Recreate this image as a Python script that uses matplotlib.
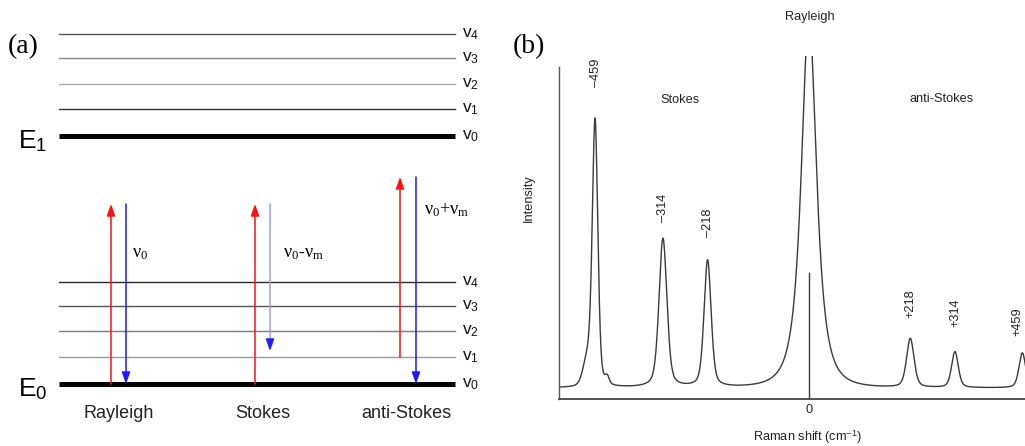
import numpy as np
import matplotlib
matplotlib.use('Agg')
import matplotlib.pyplot as plt

plt.rcParams['font.family'] = ['Liberation Sans', 'DejaVu Sans']
plt.rcParams['mathtext.fontset'] = 'custom'
plt.rcParams['mathtext.rm'] = 'Liberation Serif'
plt.rcParams['mathtext.it'] = 'Liberation Serif:italic'
plt.rcParams['mathtext.bf'] = 'Liberation Serif:bold'
plt.rcParams['mathtext.sf'] = 'Liberation Sans'

# ---------------- data: panel (a) energy-level diagram (arbitrary energy units)
ground_levels = [0, 27, 53, 78, 102]          # E0: v0..v4
excited_levels = [248, 275, 300, 326, 350]    # E1: v0..v4
level_names = ['0', '1', '2', '3', '4']
processes = ['Rayleigh', 'Stokes', 'anti-Stokes']
excite_from = [0, 0, 27]
virtual_level = [180, 180, 207]
emit_to = [0, 33, 0]
transition_labels = [r'$\text{ν}_\text{0}$',
                     r'$\text{ν}_\text{0}\text{-ν}_\text{m}$',
                     r'$\text{ν}_\text{0}\text{+ν}_\text{m}$']

# ---------------- data: panel (b) Raman spectrum
peak_labels = ['–459', '–314', '–218', '+218', '+314', '+459']
peak_shift = [-460, -314, -218, 218, 314, 459]
peak_height = [264, 149, 127, 49, 36, 35]
peak_fwhm = [14, 20, 18, 19, 17, 17]
peak_eta = [0.35, 0.4, 0.4, 0.4, 0.4, 0.4]
shoulder_shift = [-476, -434]
shoulder_height = [24, 7]
shoulder_fwhm = [22, 10]
rayleigh_shift = 0
rayleigh_height = 370
rayleigh_width = 25.2
zero_marker_height = 115

W, H = 1025, 446
fig = plt.figure(figsize=(W / 100, H / 100), dpi=100)

# ======================= panel (a) =======================
ax = fig.add_axes([0, 0, 512.5 / W, 1])
ax.set_xlim(0, 512.5)
ax.set_ylim(384 - H, 384)
ax.axis('off')

X0, X1 = 59, 455
thin_cols_ground = ['#9a9a9a', '#7a7a7a', '#555555', '#2a2a2a']
thin_cols_exc = ['#333333', '#aaaaaa', '#888888', '#555555']
for levels, cols in ((ground_levels, thin_cols_ground), (excited_levels, thin_cols_exc)):
    for i, (e, nm) in enumerate(zip(levels, level_names)):
        if i == 0:
            ax.plot([X0, X1], [e, e], color='black', lw=3.6, solid_capstyle='butt')
        else:
            ax.plot([X0, X1], [e, e], color=cols[i - 1], lw=1.0)
        ax.text(462, e, r'$\mathsf{v}_\mathsf{%s}$' % nm, fontsize=12.5,
                ha='left', va='center', color='#111111')

ax.text(18, excited_levels[0] - 12, r'$\mathsf{E}_\mathsf{1}$', fontsize=19,
        ha='left', va='baseline')
ax.text(18, ground_levels[0] - 12, r'$\mathsf{E}_\mathsf{0}$', fontsize=19,
        ha='left', va='baseline')

up_x = [111, 255, 400]
down_x = [126, 270, 416]
lab_xy = [(132, 131), (283, 131), (424, 174)]
bottom_x = [119, 263, 406]
astyle = '-|>,head_length=0.7,head_width=0.25'
for k, name in enumerate(processes):
    ax.annotate('', xy=(up_x[k], virtual_level[k]), xytext=(up_x[k], excite_from[k]),
                arrowprops=dict(arrowstyle=astyle, color='#ff1010', lw=1.1,
                                shrinkA=0, shrinkB=0, mutation_scale=10))
    if name == 'Stokes':
        ax.plot([down_x[k], down_x[k]], [virtual_level[k], emit_to[k] + 8],
                color='#9a9aff', lw=1.1)
        ax.annotate('', xy=(down_x[k], emit_to[k]), xytext=(down_x[k], emit_to[k] + 10),
                    arrowprops=dict(arrowstyle=astyle, color='#2020ff', lw=1.1,
                                    shrinkA=0, shrinkB=0, mutation_scale=10))
    else:
        ax.annotate('', xy=(down_x[k], emit_to[k]), xytext=(down_x[k], virtual_level[k]),
                    arrowprops=dict(arrowstyle=astyle, color='#1a1aff', lw=1.1,
                                    shrinkA=0, shrinkB=0, mutation_scale=10))
    ax.text(lab_xy[k][0], lab_xy[k][1], transition_labels[k], fontsize=13,
            ha='left', va='center')
    ax.text(bottom_x[k], -29, name, fontsize=13, ha='center', va='center',
            color='#222222')

fig.text(8 / W, 1 - 47 / H, '(a)', family='Liberation Serif', fontsize=20,
         ha='left', va='center')
fig.text(513 / W, 1 - 47 / H, '(b)', family='Liberation Serif', fontsize=20,
         ha='left', va='center')

# ======================= panel (b) =======================
def pvoigt(x, c, h, w, eta=0.4):
    g = np.exp(-4 * np.log(2) * ((x - c) / w) ** 2)
    l = 1.0 / (1 + 4 * ((x - c) / w) ** 2)
    return h * (eta * l + (1 - eta) * g)

xl, xr = -537.6, 540
axb = fig.add_axes([559 / W, (H - 399) / H, (1060 - 559) / W, (399 - 56) / H])
axb.set_xlim(xl, xr)
axb.set_ylim(-11, 332)

x = np.linspace(xl, xr, 8000)
y = rayleigh_height / (1 + ((x - rayleigh_shift) / rayleigh_width) ** 2) ** 1.5
for c, h, w, e in zip(peak_shift, peak_height, peak_fwhm, peak_eta):
    y = y + pvoigt(x, c, h, w, e)
for c, h, w in zip(shoulder_shift, shoulder_height, shoulder_fwhm):
    y = y + pvoigt(x, c, h, w, eta=0.0)
axb.plot(x, y, color='#3a3a3a', lw=1.0)
axb.plot([0, 0], [-11, zero_marker_height], color='#3a3a3a', lw=1.0)

FS = 9.2
label_top = [301, 166, 151, 70, 61, 52]
label_x = list(peak_shift)
label_x[0] = -459
label_x[-1] = 448
for c, ly, t in zip(label_x, label_top, peak_labels):
    axb.text(c, ly, t, rotation=90, ha='center', va='bottom', fontsize=FS,
             color='#222222', clip_on=False)

axb.text(2, 371, 'Rayleigh', ha='center', va='center', fontsize=FS, color='#222222',
         clip_on=False)
axb.text(-278, 288, 'Stokes', ha='center', va='center', fontsize=FS, color='#222222')
axb.text(286, 289, 'anti-Stokes', ha='center', va='center', fontsize=FS, color='#222222')

for s in ('top', 'right'):
    axb.spines[s].set_visible(False)
axb.spines['left'].set_bounds(-11, 321)
axb.spines['left'].set_color('#555555')
axb.spines['bottom'].set_color('#444444')
axb.spines['left'].set_linewidth(1.0)
axb.spines['bottom'].set_linewidth(1.3)
axb.set_yticks([])
axb.set_xticks([0])
axb.set_xticklabels(['0'])
axb.tick_params(axis='x', length=0, pad=3.5, labelsize=FS, labelcolor='#222222')

fig.text(529 / W, 1 - 198 / H, 'Intensity', rotation=90, ha='center', va='center',
         fontsize=FS, color='#222222')
fig.text(807 / W, 1 - 437 / H, r'Raman shift (cm$^{\mathsf{-1}}$)', ha='center',
         va='center', fontsize=FS, color='#222222')

fig.savefig('out.png', dpi=100)
